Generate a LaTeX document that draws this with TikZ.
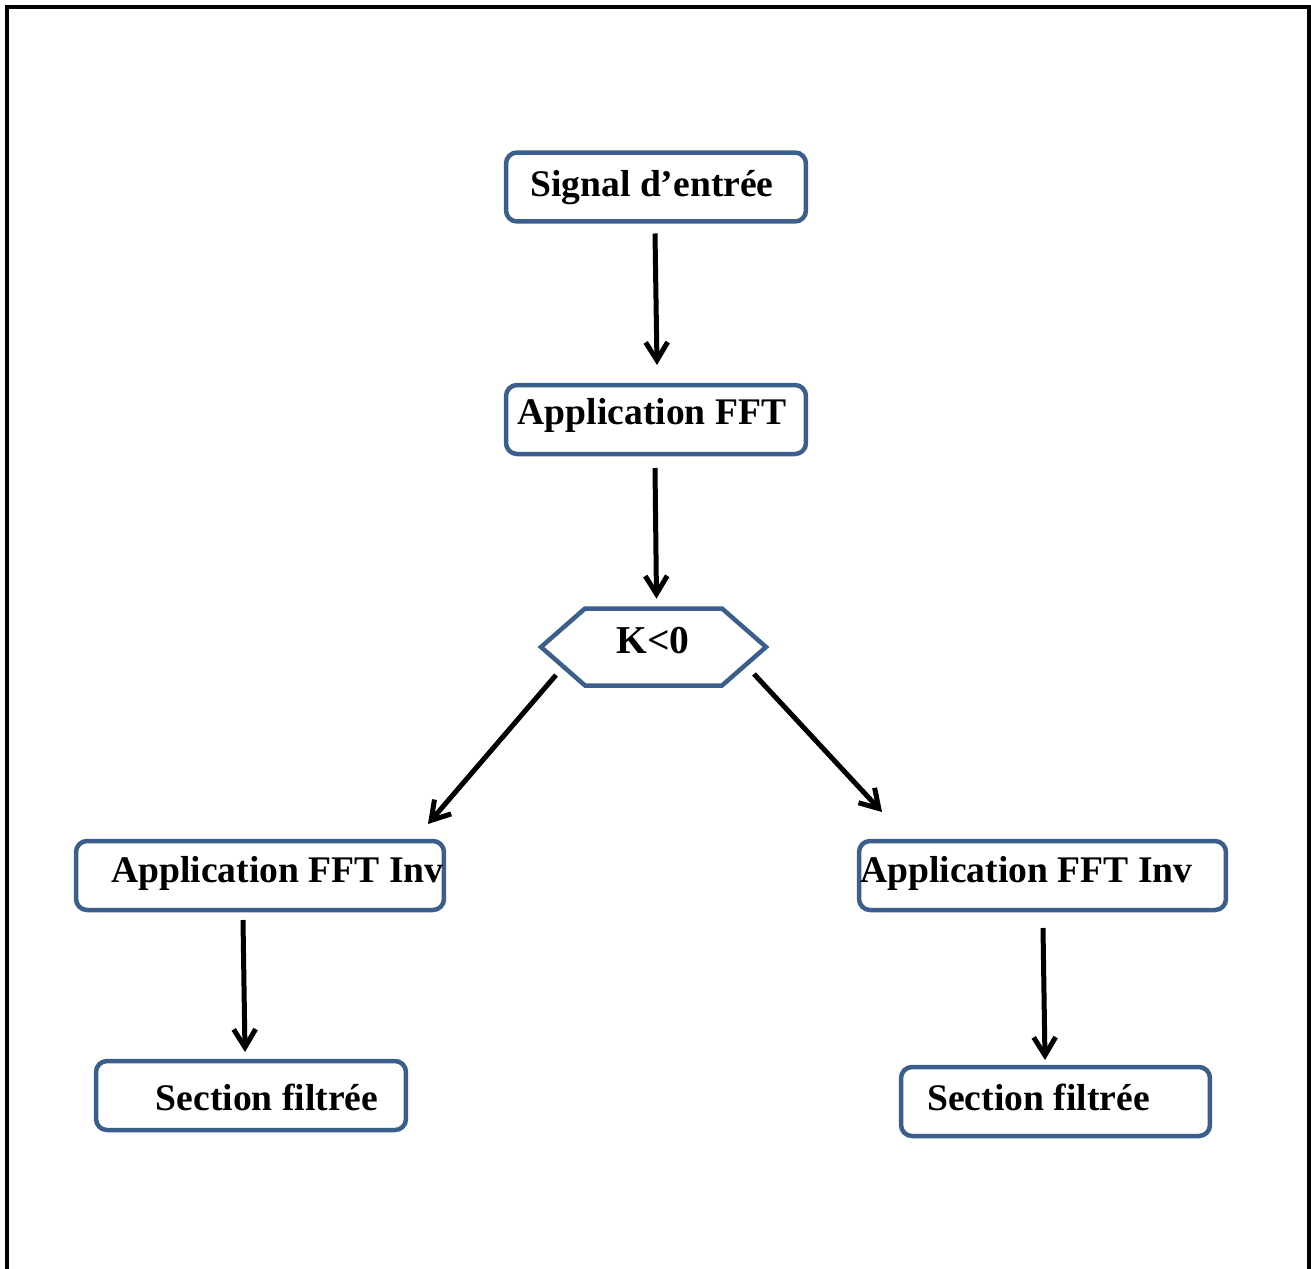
\documentclass[tikz,border=0pt]{standalone}
\usepackage{fontspec}
\setmainfont{Liberation Serif}
\usetikzlibrary{arrows.meta,calc}
\definecolor{boxblue}{HTML}{3B5E8C}
\begin{document}
\begin{tikzpicture}[x=0.02cm,y=-0.02cm,
  box/.style={draw=boxblue, line width=0.09cm, rounded corners=0.22cm, inner sep=0pt, outer sep=0pt, minimum height=1.38cm},
  lbl/.style={font=\fontsize{21.4}{25}\selectfont\bfseries, anchor=base, inner sep=0pt},
  arr/.style={line width=0.1cm, -{Straight Barb[length=0.36cm,width=0.44cm,line width=0.1cm]}},
  frame/.style={line width=0.08cm, black}]
\useasboundingbox (0,0) rectangle (1311,1268);
\draw[frame] (7,1270) -- (7,7) -- (1309,7) -- (1309,1270);
% boxes
\node[box, minimum width=6cm] (sig) at (656,187) {};
\node[box, minimum width=6cm] (fft) at (656,419.5) {};
\node[box, minimum width=7.36cm] (invl) at (260,875.5) {};
\node[box, minimum width=7.34cm] (invr) at (1042.5,875.5) {};
\node[box, minimum width=6.2cm] (secl) at (251,1095.5) {};
\node[box, minimum width=6.18cm] (secr) at (1055.5,1101.5) {};
% hexagon
\node[minimum width=4.5cm, minimum height=1.56cm, inner sep=0pt] (hex) at (653.5,647) {};
\draw[draw=boxblue, line width=0.09cm] (541,647) -- (585,608.5) -- (722,608.5) -- (766,647) -- (722,685.5) -- (585,685.5) -- cycle;
% labels
\node[lbl] (tsig) at (652,196) {Signal d’entrée};
\node[lbl] (tfft) at (652,424) {Application FFT};
\node[lbl, font=\fontsize{22.5}{26}\selectfont\bfseries] (thex) at (653,653) {K<0};
\node[lbl] (tinvl) at (277.5,882) {Application FFT Inv};
\node[lbl] (tinvr) at (1026.5,882) {Application FFT Inv};
\node[lbl] (tsecl) at (267,1110) {Section filtrée};
\node[lbl] (tsecr) at (1038.5,1110) {Section filtrée};
% connector end points
\coordinate (a1) at ($(sig.south)+(-1,12)$);
\coordinate (b1) at ($(fft.north)+(1,-20)$);
\coordinate (a2) at ($(fft.south)+(-1,14)$);
\coordinate (b2) at ($(hex.north)+(3,-9)$);
\coordinate (a3) at ($(hex.center)+(-97.5,28)$);
\coordinate (b3) at ($(invl.north east)+(-16,-17)$);
\coordinate (a4) at ($(hex.center)+(100.5,27)$);
\coordinate (b4) at ($(invr.north west)+(23,-29)$);
\coordinate (a5) at ($(invl.south)+(-17,10)$);
\coordinate (b5) at ($(secl.north)+(-6,-9)$);
\coordinate (a6) at ($(invr.south)+(0.5,18)$);
\coordinate (b6) at ($(secr.north)+(-10.5,-7)$);
\draw[arr] (a1) -- (b1);
\draw[arr] (a2) -- (b2);
\draw[arr] (a3) -- (b3);
\draw[arr] (a4) -- (b4);
\draw[arr] (a5) -- (b5);
\draw[arr] (a6) -- (b6);
\end{tikzpicture}
\end{document}
